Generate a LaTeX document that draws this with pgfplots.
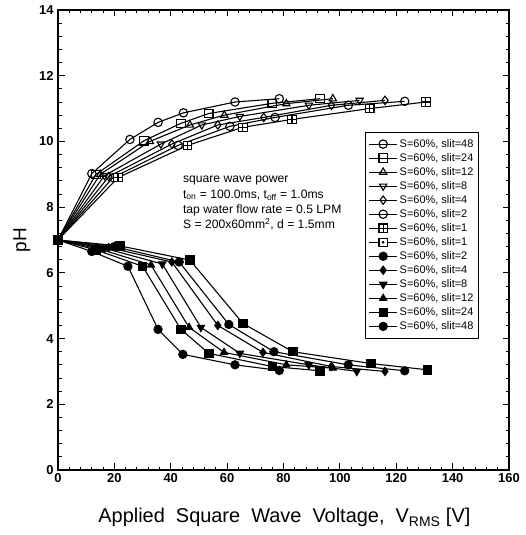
\documentclass[border=0pt]{standalone}
\usepackage{fontspec}
\setmainfont{Liberation Sans}
\usepackage{pgfplots}
\pgfplotsset{compat=1.18}

% square with a cross, square with a dot
\pgfdeclareplotmark{squareplus}{%
  \pgfpathrectangle{\pgfpoint{-\pgfplotmarksize}{-\pgfplotmarksize}}{\pgfpoint{2\pgfplotmarksize}{2\pgfplotmarksize}}%
  \pgfusepathqfillstroke
  \pgfpathmoveto{\pgfpoint{-\pgfplotmarksize}{0pt}}\pgfpathlineto{\pgfpoint{\pgfplotmarksize}{0pt}}%
  \pgfpathmoveto{\pgfpoint{0pt}{-\pgfplotmarksize}}\pgfpathlineto{\pgfpoint{0pt}{\pgfplotmarksize}}%
  \pgfusepathqstroke}
\pgfdeclareplotmark{squaredot}{%
  \pgfpathrectangle{\pgfpoint{-\pgfplotmarksize}{-\pgfplotmarksize}}{\pgfpoint{2\pgfplotmarksize}{2\pgfplotmarksize}}%
  \pgfusepathqfillstroke
  \pgfsetfillcolor{black}%
  \pgfpathcircle{\pgfpointorigin}{0.35\pgfplotmarksize}%
  \pgfusepathqfill}

\begin{document}
\begin{tikzpicture}
\useasboundingbox (-58bp,-65bp) rectangle (468bp,470bp);
\begin{axis}[
    width=451bp, height=460bp, scale only axis,
    xmin=0, xmax=160, ymin=0, ymax=14,
    xtick={0,20,...,160}, ytick={0,2,...,14},
    minor x tick num=4, minor y tick num=4,
    tick align=inside, major tick length=6.5bp, minor tick length=3.5bp,
    xtick pos=both, ytick pos=both,
    axis line style={line width=1.3pt},
    every tick/.style={black, line width=0.9pt},
    /pgf/number format/assume math mode=true,
    tick label style={font=\fontsize{13}{15}\bfseries},
    yticklabel style={xshift=-1bp},
    xlabel={Applied\ \ Square\ \ Wave\ \ Voltage,\ \ V\textsubscript{RMS} [V]},
    ylabel={pH},
    xlabel style={font=\fontsize{20}{23}\selectfont, at={(axis description cs:0.502,-0.104)}, anchor=center},
    ylabel style={font=\fontsize{19}{22}\selectfont, at={(axis description cs:-0.08,0.5)}, anchor=center},
    every axis plot/.append style={black, line width=1.1pt, mark size=4.2bp, mark options={solid, line width=0.9pt}},
    legend image code/.code={\draw[mark repeat=2,mark phase=2,#1] plot coordinates {(0bp,0bp)(14bp,0bp)(28bp,0bp)};},
    legend style={at={(0.681,0.735)}, anchor=north west, draw=black, line width=1pt,
        font=\fontsize{11}{13}\selectfont, row sep=0.6bp, inner xsep=3bp, inner ysep=5bp,
        cells={anchor=west}},
]
% rising branch (open marks)
\addplot[mark=o, mark options={fill=white}] coordinates {(0,7)(12,9.02)(25.5,10.06)(35.5,10.58)(44.5,10.87)(62.8,11.2)(78.5,11.3)};
\addlegendentry{S=60\%, slit=48}
\addplot[mark=square, mark options={fill=white}] coordinates {(0,7)(13.5,9.0)(30.5,10.02)(43.6,10.55)(53.5,10.85)(76,11.16)(93,11.3)};
\addlegendentry{S=60\%, slit=24}
\addplot[mark=triangle, mark options={fill=white}] coordinates {(0,7)(15,9.0)(32.6,10.0)(46.8,10.5)(59,10.8)(81,11.15)(97.5,11.3)};
\addlegendentry{S=60\%, slit=12}
\addplot[mark=triangle, mark options={fill=white, rotate=180}] coordinates {(0,7)(16.5,8.96)(36.5,9.92)(51,10.5)(64.5,10.76)(89,11.1)(107,11.25)};
\addlegendentry{S=60\%, slit=8}
\addplot[mark=diamond, mark options={fill=white}] coordinates {(0,7)(18,8.93)(40.4,9.92)(56.7,10.5)(73,10.73)(97,11.1)(116,11.25)};
\addlegendentry{S=60\%, slit=4}
\addplot[mark=o, mark options={fill=white}] coordinates {(0,7)(19.5,8.9)(42.6,9.88)(61,10.46)(77,10.73)(103,11.1)(123,11.22)};
\addlegendentry{S=60\%, slit=2}
\addplot[mark=squareplus, mark options={fill=white}] coordinates {(0,7)(21.3,8.9)(46,9.88)(65.6,10.43)(83,10.67)(110.6,11.0)(130.5,11.2)};
\addlegendentry{S=60\%, slit=1}
% falling branch (filled marks)
\addplot[mark=squaredot, mark options={fill=white}] coordinates {(0,7)(22,6.82)(46.8,6.39)(65.6,4.46)(83.3,3.6)(111,3.24)(131,3.05)};
\addlegendentry{S=60\%, slit=1}
\addplot[mark=*] coordinates {(0,7)(20,6.8)(43,6.33)(60.6,4.43)(76.6,3.6)(103,3.2)(123,3.02)};
\addlegendentry{S=60\%, slit=2}
\addplot[mark=diamond*] coordinates {(0,7)(18,6.77)(40.4,6.33)(56.7,4.4)(72.7,3.58)(97,3.15)(116,3.0)};
\addlegendentry{S=60\%, slit=4}
\addplot[mark=triangle*, mark options={rotate=180}] coordinates {(0,7)(16.5,6.75)(37,6.27)(50.7,4.34)(64.5,3.55)(89,3.2)(106,3.0)};
\addlegendentry{S=60\%, slit=8}
\addplot[mark=triangle*] coordinates {(0,7)(15,6.72)(33,6.24)(46.5,4.34)(58.9,3.58)(81,3.2)(97.5,3.1)};
\addlegendentry{S=60\%, slit=12}
\addplot[mark=square*] coordinates {(0,7)(13.5,6.7)(30,6.2)(43.6,4.28)(53.5,3.55)(76,3.15)(93,3.02)};
\addlegendentry{S=60\%, slit=24}
\addplot[mark=*] coordinates {(0,7)(12,6.65)(24.8,6.2)(35.5,4.28)(44.3,3.52)(62.8,3.2)(78.5,3.03)};
\addlegendentry{S=60\%, slit=48}

\node[anchor=north west, align=left, font=\fontsize{12.2}{15.5}\selectfont, inner sep=0pt]
  at (axis cs:44.3,8.95)
  {square wave power\\
   t\textsubscript{on} = 100.0ms, t\textsubscript{off} = 1.0ms\\
   tap water flow rate = 0.5 LPM\\
   S = 200x60mm\textsuperscript{2}, d = 1.5mm};
\end{axis}
\end{tikzpicture}
\end{document}
